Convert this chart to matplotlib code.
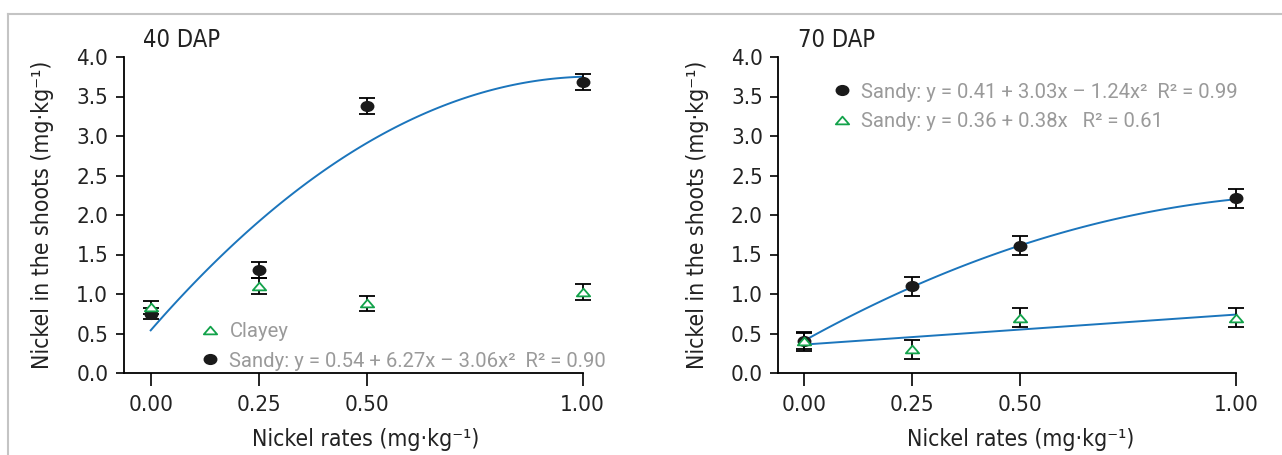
import matplotlib
matplotlib.use('Agg')
import matplotlib.pyplot as plt
from matplotlib.lines import Line2D
from matplotlib.path import Path
import numpy as np

plt.rcParams['font.family'] = ['DejaVu Sans']
plt.rcParams['font.stretch'] = 'condensed'

# data
rates = [0.0, 0.25, 0.50, 1.00]
rate_labels = ['0.00', '0.25', '0.50', '1.00']

sandy40 = [0.75, 1.30, 3.38, 3.68]
sandy40_err = [0.07, 0.10, 0.10, 0.10]
clayey40 = [0.83, 1.10, 0.88, 1.03]
clayey40_err = [0.08, 0.10, 0.10, 0.10]
fit40 = [0.54, 6.27, -3.06]

sandy70 = [0.41, 1.10, 1.61, 2.21]
sandy70_err = [0.10, 0.12, 0.12, 0.12]
clayey70 = [0.40, 0.30, 0.70, 0.70]
clayey70_err = [0.12, 0.12, 0.12, 0.12]
fit70_quad = [0.41, 3.03, -1.24]
fit70_lin = [0.36, 0.38]

yticks = [0.0, 0.5, 1.0, 1.5, 2.0, 2.5, 3.0, 3.5, 4.0]

blue = '#1b75bc'
green = '#12a24a'
gray = '#9a9a9a'

# flattened markers like in the original figure
circ = Path.unit_circle()
ellipse = Path(circ.vertices * [1.0, 0.78], circ.codes)
flat_tri = Path([(-0.5, -0.29), (0.5, -0.29), (0.0, 0.29), (-0.5, -0.29)],
                [Path.MOVETO, Path.LINETO, Path.LINETO, Path.CLOSEPOLY])

fig = plt.figure(figsize=(12.82, 4.55), dpi=100)
W, H = 1282, 455

def make_axes(left_px, x0, title, title_px):
    ax = fig.add_axes([left_px / W, 82 / H, (1.06 - x0) * 432 / W, 316 / H])
    ax.set_xlim(x0, 1.06)
    ax.set_ylim(0, 4.0)
    ax.spines['top'].set_visible(False)
    ax.spines['right'].set_visible(False)
    ax.spines['bottom'].set_bounds(x0, 1.0)
    ax.set_xticks(rates)
    ax.set_xticklabels(rate_labels)
    ax.set_yticks(yticks)
    ax.set_yticklabels(['%.1f' % v for v in yticks])
    ax.tick_params(axis='x', length=9, width=1.2, pad=7, labelsize=16, labelcolor='#222222')
    ax.tick_params(axis='y', length=5.8, width=1.2, pad=5.3, labelsize=16, labelcolor='#222222')
    for s in ['left', 'bottom']:
        ax.spines[s].set_linewidth(1.3)
    ax.set_xlabel('Nickel rates (mg·kg⁻¹)', fontsize=16.5, labelpad=9, color='#222222')
    ax.set_ylabel('Nickel in the shoots (mg·kg⁻¹)', fontsize=16.5, labelpad=16, color='#222222')
    fig.text(title_px / W, 1 - 40 / H, title, fontsize=17, ha='left', va='center', color='#222222')
    return ax

def points(ax, y, err, kind, label):
    ax.errorbar(rates, y, yerr=err, fmt='none', ecolor='black', elinewidth=1.3,
                capsize=6, capthick=1.3, clip_on=False, zorder=3)
    if kind == 'o':
        h, = ax.plot(rates, y, ls='none', marker=ellipse, color='#1a1a1a', ms=9,
                     clip_on=False, zorder=4, label=label)
    else:
        h, = ax.plot(rates, y, ls='none', marker=flat_tri, mfc='white', mec=green, mew=1.3,
                     ms=9.6, clip_on=False, zorder=5, label=label)
    return h

xs = np.linspace(0, 1, 100)
legend_kw = dict(frameon=False, handlelength=0.8, handletextpad=0.55, labelspacing=0.5,
                 borderaxespad=0.0, labelcolor=gray,
                 prop={'family': ['Roboto', 'DejaVu Sans'], 'stretch': 'normal', 'size': 14.6})

# 40 DAP
ax1 = make_axes(123.7, -0.0625, '40 DAP', 143)
ax1.plot(xs, fit40[0] + fit40[1] * xs + fit40[2] * xs ** 2, color=blue, lw=1.4, zorder=2)
hs1 = points(ax1, sandy40, sandy40_err, 'o', 'Sandy: y = 0.54 + 6.27x – 3.06x²  R² = 0.90')
hc1 = points(ax1, clayey40, clayey40_err, '^', 'Clayey')
ax1.legend(handles=[hc1, hs1], loc='center left', bbox_to_anchor=(0.145, 0.084), **legend_kw)

# 70 DAP
ax2 = make_axes(778.4, -0.06, '70 DAP', 797.6)
ax2.plot(xs, fit70_quad[0] + fit70_quad[1] * xs + fit70_quad[2] * xs ** 2, color=blue, lw=1.4, zorder=2)
ax2.plot(xs, fit70_lin[0] + fit70_lin[1] * xs, color=blue, lw=1.4, zorder=2)
hs2 = points(ax2, sandy70, sandy70_err, 'o', 'Sandy: y = 0.41 + 3.03x – 1.24x²  R² = 0.99')
hc2 = points(ax2, clayey70, clayey70_err, '^', 'Sandy: y = 0.36 + 0.38x   R² = 0.61')
ax2.legend(handles=[hs2, hc2], loc='center left', bbox_to_anchor=(0.098, 0.843), **legend_kw)

# panel frame lines
fig.add_artist(Line2D([8 / W, 1.0], [1 - 14 / H, 1 - 14 / H], color='#c4c4c4', lw=1.5))
fig.add_artist(Line2D([8 / W, 8 / W], [0, 1 - 14 / H], color='#c4c4c4', lw=1.5))

fig.savefig('out.png', dpi=100)
